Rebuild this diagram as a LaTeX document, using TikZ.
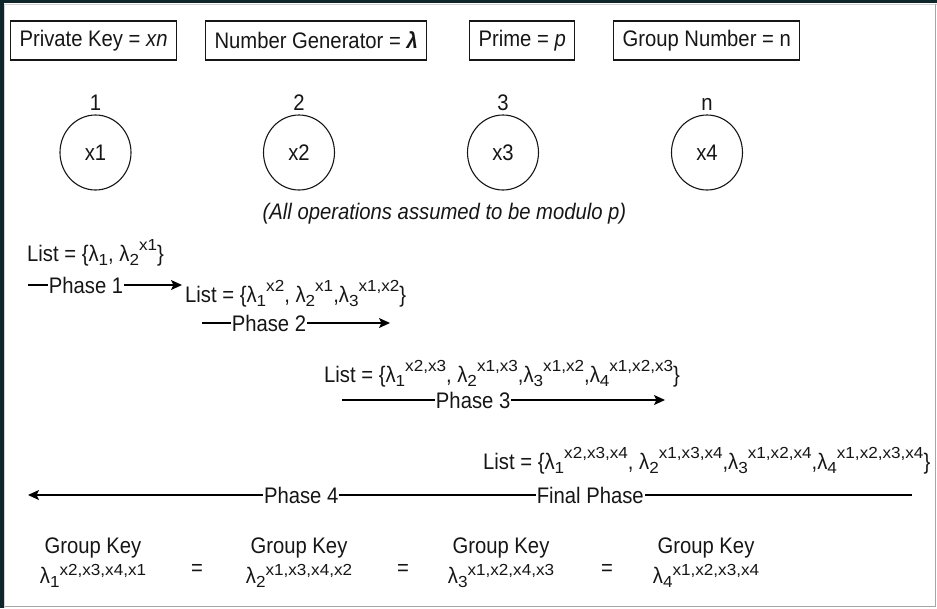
\documentclass[tikz,border=0pt]{standalone}
\usepackage{fontspec}
\setmainfont{Liberation Sans}[FakeStretch=0.9]
\newfontfamily\supfont{Liberation Sans}[FakeStretch=1.07]
\usepackage{tikz}
\usetikzlibrary{positioning,arrows.meta,shapes.geometric}

\definecolor{framedark}{RGB}{14,38,42}
\definecolor{ink}{RGB}{22,22,22}

% lambda with subscript, then a raised exponent list
\newcommand\lmpow[3][10.5pt]{λ\raisebox{-4pt}{\fontsize{16}{16}\supfont #2}\raisebox{#1}{\fontsize{16}{16}\supfont #3}}

\begin{document}
\begin{tikzpicture}[x=1pt,y=-1pt,
                    every node/.style={font=\fontsize{22.5}{26}\selectfont,text=ink},
                    keybox/.style={draw=ink,line width=1.2pt,inner xsep=9pt,
                                   minimum height=39pt,anchor=west},
                    party/.style={draw=ink,line width=1.1pt,ellipse,
                                  minimum width=71pt,minimum height=75pt},
                    listtxt/.style={anchor=base west,inner sep=0pt},
                    phase/.style={fill=white,inner xsep=1pt,inner ysep=0pt},
                    flow/.style={line width=1.3pt,
                                 -{Stealth[length=11pt,width=10pt,inset=2.5pt]}}]
  \useasboundingbox (0,0) rectangle (937,608);

  % screenshot frame
  \fill[framedark] (0,0) rectangle (937,3);
  \fill[framedark] (0,0) rectangle (3.5,608);
  \draw[gray!35] (4.5,608) -- (4.5,4) -- (937,4);
  \draw[gray!70,line width=1.5pt] (935.5,4) -- (935.5,606.5) -- (4.5,606.5);

  % parameters
  \node[keybox] (pkey) at (10,40.5)  {Private Key = \textit{xn}};
  \node[keybox] (ngen) at (205,40.5) {Number Generator = \textbf{\textit{λ}}};
  \node[keybox] (prim) at (469,40.5) {Prime = \textit{p}};
  \node[keybox] (gnum) at (613,40.5) {Group Number = n};

  % members
  \node[party] (x1) at (95.5,152.5) {x1};
  \node[party] (x2) at (299,152.5)  {x2};
  \node[party] (x3) at (503,152.5)  {x3};
  \node[party] (x4) at (707,152.5)  {x4};
  \node[above=0pt of x1] (id1) {1};
  \node[above=0pt of x2] (id2) {2};
  \node[above=0pt of x3] (id3) {3};
  \node[above=0pt of x4] (id4) {n};

  \node[font=\fontsize{22.5}{26}\selectfont\itshape] (note) at (444.5,214)
       {(All operations assumed to be modulo p)};

  % lists passed along
  \node[listtxt] (list1) at (27,261)
       {List = \{\lmpow{1}{}, \lmpow{2}{x1}\}};
  \node[listtxt] (list2) at (185,302)
       {List = \{\lmpow{1}{x2}, \lmpow{2}{x1},\lmpow{3}{x1,x2}\}};
  \node[listtxt] (list3) at (324,382)
       {List = \{\lmpow{1}{x2,x3}, \lmpow{2}{x1,x3},\lmpow{3}{x1,x2},\lmpow{4}{x1,x2,x3}\}};
  \node[listtxt] (list4) at (483,469)
       {List = \{\lmpow{1}{x2,x3,x4}, \lmpow{2}{x1,x3,x4},\lmpow{3}{x1,x2,x4},\lmpow{4}{x1,x2,x3,x4}\}};

  \coordinate (p1s) at (28,285);   \coordinate (p1e) at (182,285);
  \coordinate (p2s) at (202,323);  \coordinate (p2e) at (390,323);
  \coordinate (p3s) at (342,400);  \coordinate (p3e) at (665,400);
  \coordinate (p4s) at (912,495);  \coordinate (p4e) at (28,495);

  \draw[flow] (p1s) -- node[phase,pos=.377] (ph1) {Phase 1} (p1e);
  \draw[flow] (p2s) -- node[phase,pos=.356] (ph2) {Phase 2} (p2e);
  \draw[flow] (p3s) -- node[phase,pos=.406] (ph3) {Phase 3} (p3e);
  \draw[flow] (p4s) -- node[phase,pos=.364] (phf) {Final Phase}
                       node[phase,pos=.691] (ph4) {Phase 4} (p4e);

  % resulting keys
  \node[anchor=base] (gk1) at (93,553)  {Group Key};
  \node[anchor=base] (gk2) at (299,553) {Group Key};
  \node[anchor=base] (gk3) at (501,553) {Group Key};
  \node[anchor=base] (gk4) at (706,553) {Group Key};
  \node[anchor=base] (gv1) at (93,583)  {\lmpow[8pt]{1}{x2,x3,x4,x1}};
  \node[anchor=base] (gv2) at (299,583) {\lmpow[8pt]{2}{x1,x3,x4,x2}};
  \node[anchor=base] (gv3) at (501,583) {\lmpow[8pt]{3}{x1,x2,x4,x3}};
  \node[anchor=base] (gv4) at (706,583) {\lmpow[8pt]{4}{x1,x2,x3,x4}};
  \node[anchor=base] (eq1) at (197,575) {=};
  \node[anchor=base] (eq2) at (403,575) {=};
  \node[anchor=base] (eq3) at (607,575) {=};
\end{tikzpicture}
\end{document}
